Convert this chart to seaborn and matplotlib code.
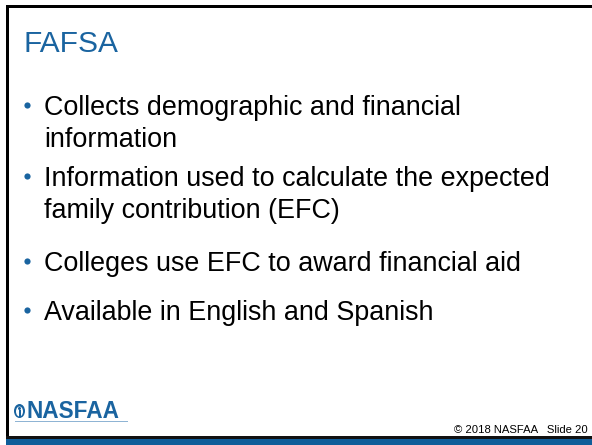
import matplotlib
matplotlib.use("Agg")
import matplotlib.pyplot as plt
from matplotlib.patches import Rectangle, Ellipse
import seaborn as sns

title = "FAFSA"
bullets = [
    ["Collects demographic and financial", "information"],
    ["Information used to calculate the expected", "family contribution (EFC)"],
    ["Colleges use EFC to award financial aid"],
    ["Available in English and Spanish"],
]
footer = "\u00a9 2018 NASFAA   Slide 20"
logo = "NASFAA"

blue = "#1a64a0"

sns.set_theme(style="white")
plt.rcParams["font.family"] = ["Liberation Sans", "DejaVu Sans"]

fig = plt.figure(figsize=(5.92, 4.45), dpi=100)
ax = fig.add_axes([0, 0, 1, 1])
ax.set_xlim(0, 592)
ax.set_ylim(445, 0)
ax.axis("off")

# frame: top and left black lines, bottom black + blue band
ax.add_patch(Rectangle((6, 5), 586, 2.5, color="black", lw=0))
ax.add_patch(Rectangle((6, 5), 3, 433, color="black", lw=0))
ax.add_patch(Rectangle((6, 436), 586, 2.5, color="#111111", lw=0))
ax.add_patch(Rectangle((6, 438.5), 586, 6.5, color="#0f5d99", lw=0))

ax.text(23, 52, title, color=blue, fontsize=21.5, va="baseline", ha="left")

# bullet lines (baselines)
starts = [115, 186, 271, 320]
line_gap = 32
bx, by = [], []
for lines, y0 in zip(bullets, starts):
    bx.append(27)
    by.append(y0 - 10)
    for i, line in enumerate(lines):
        ax.text(44, y0 + i * line_gap, line, color="black", fontsize=19.4,
                va="baseline", ha="left")
sns.scatterplot(x=bx, y=by, ax=ax, color=blue, s=20, linewidth=0, legend=False)

# logo: round emblem + wordmark
ax.add_patch(Ellipse((19.5, 411), 11, 14, color=blue, lw=0))
ax.add_patch(Ellipse((19.5, 411.5), 7, 10, color="white", lw=0))
ax.add_patch(Ellipse((19.5, 408.5), 3, 3, color=blue, lw=0))
ax.add_patch(Rectangle((18.5, 410), 2, 7, color=blue, lw=0))
ax.text(26.5, 418, logo, color=blue, fontsize=16.3, fontweight="bold",
        va="baseline", ha="left")
ax.add_patch(Rectangle((15, 420.5), 113, 1.2, color="#8fb4d4", lw=0))

ax.text(588, 433, footer, color="black", fontsize=8.1, va="baseline", ha="right")

fig.savefig("out.png", dpi=100)
